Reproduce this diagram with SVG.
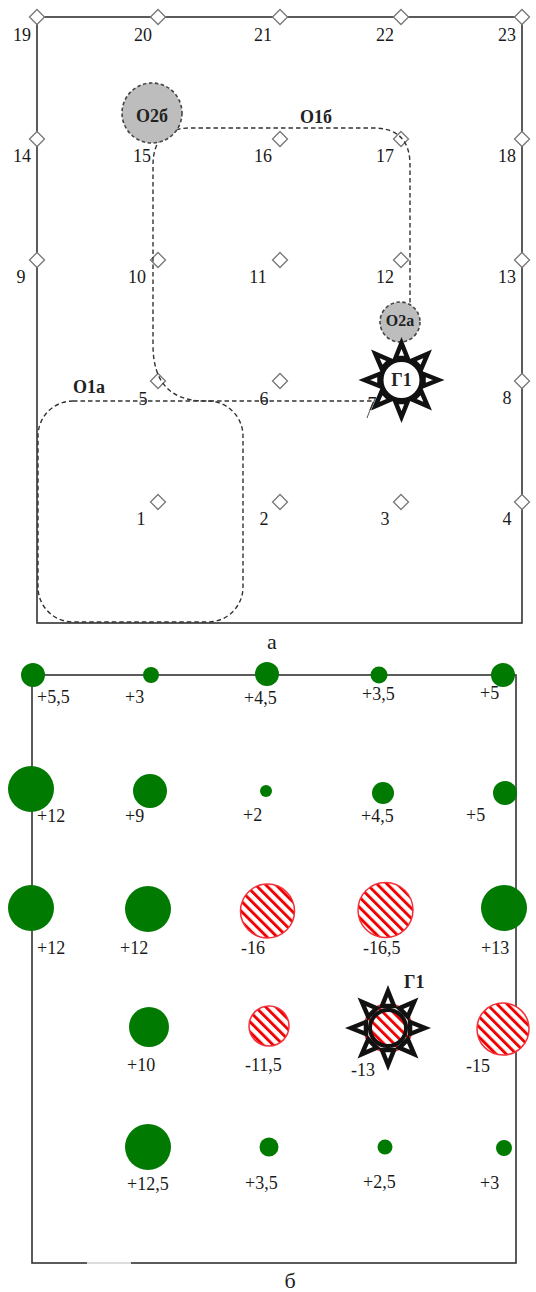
<svg xmlns="http://www.w3.org/2000/svg" xmlns:xlink="http://www.w3.org/1999/xlink" width="536" height="1292" viewBox="0 0 536 1292">
<style>
text{font-family:"Liberation Serif","Times New Roman",serif;font-size:18px;fill:#1a1a1a}
.n{text-anchor:middle}
.b{font-weight:bold;fill:#222}
.f{fill:none;stroke:#333;stroke-width:1.6}
.d{fill:#fff;stroke:#777;stroke-width:1.3}
.p{fill:none;stroke:#333;stroke-width:1.4;stroke-dasharray:4.5 3}
.o{fill:#bdbdbd;stroke:#444;stroke-width:1.6;stroke-dasharray:3.5 2.5}
.g{fill:#007a00}
.h{fill:url(#hatch);stroke:#f2303a;stroke-width:1.5}
.ray{fill:#fff;stroke:#111;stroke-width:4.5;stroke-linejoin:miter}
</style>
<defs>
<pattern id="hatch" width="7.2" height="8" patternUnits="userSpaceOnUse" patternTransform="rotate(-45)">
<rect width="7.2" height="8" fill="#fff"/><rect x="0" y="0" width="2.9" height="8" fill="#f00000"/>
</pattern>
<polygon id="d" class="d" points="0,-7.500 7.500,0 0,7.500 -7.500,0"/>
<g id="rays">
<polygon id="r" class="ray" points="0,-37 6,-22 -6,-22"/>
<use xlink:href="#r" transform="rotate(45)"/><use xlink:href="#r" transform="rotate(90)"/><use xlink:href="#r" transform="rotate(135)"/><use xlink:href="#r" transform="rotate(180)"/><use xlink:href="#r" transform="rotate(225)"/><use xlink:href="#r" transform="rotate(270)"/><use xlink:href="#r" transform="rotate(315)"/>
</g>
</defs>

<g id="panel-a">
<rect id="frame-a" class="f" x="37" y="17" width="485" height="606"/>
<g id="grid-points">
<use xlink:href="#d" x="37" y="17"/><use xlink:href="#d" x="158" y="17"/><use xlink:href="#d" x="280" y="17"/><use xlink:href="#d" x="401" y="17"/><use xlink:href="#d" x="522" y="17"/>
<use xlink:href="#d" x="37" y="139"/><use xlink:href="#d" x="280" y="139"/><use xlink:href="#d" x="401" y="139"/><use xlink:href="#d" x="522" y="139"/>
<use xlink:href="#d" x="37" y="260"/><use xlink:href="#d" x="158" y="260"/><use xlink:href="#d" x="280" y="260"/><use xlink:href="#d" x="401" y="260"/><use xlink:href="#d" x="522" y="260"/>
<use xlink:href="#d" x="158" y="381"/><use xlink:href="#d" x="280" y="381"/><use xlink:href="#d" x="522" y="381"/>
<use xlink:href="#d" x="158" y="502"/><use xlink:href="#d" x="280" y="502"/><use xlink:href="#d" x="401" y="502"/><use xlink:href="#d" x="522" y="502"/>
</g>
<g id="connectors">
<rect id="route-o1a" class="p" x="38" y="401" width="205" height="221" rx="35" ry="35"/>
<path id="route-o1b" class="p" d="M410 310V165Q410 128 373 128H190Q153 128 153 165V345Q153 401 205 401H372"/>
<path id="arrow-o1b" d="M373 402L367 418" fill="none" stroke="#555" stroke-width="1"/>
</g>
<g id="grid-labels">
<text class="n" x="22" y="41">19</text><text class="n" x="143" y="41">20</text><text class="n" x="263" y="41">21</text><text class="n" x="385" y="41">22</text><text class="n" x="507" y="41">23</text>
<text class="n" x="22" y="162">14</text><text class="n" x="142" y="162">15</text><text class="n" x="263" y="162">16</text><text class="n" x="385" y="162">17</text><text class="n" x="507" y="162">18</text>
<text class="n" x="21" y="283">9</text><text class="n" x="137" y="283">10</text><text class="n" x="258" y="283">11</text><text class="n" x="385" y="283">12</text><text class="n" x="507" y="283">13</text>
<text class="n" x="143" y="405">5</text><text class="n" x="264" y="405">6</text><text class="n" x="372" y="410">7</text><text class="n" x="507" y="404">8</text>
<text class="n" x="141" y="525">1</text><text class="n" x="264" y="525">2</text><text class="n" x="385" y="525">3</text><text class="n" x="507" y="525">4</text>
</g>
<g id="node-o1a"><text class="b" x="73" y="393">О1а</text></g>
<g id="node-o1b"><text class="b" x="300" y="123">О1б</text></g>
<g id="node-o2b"><circle class="o" cx="152" cy="113" r="30"/><text class="b n" x="152" y="122">О2б</text></g>
<g id="node-o2a"><circle class="o" cx="400" cy="322" r="20"/><text class="b n" x="400" y="326" style="font-size:16px">О2а</text></g>
<g id="node-g1"><use xlink:href="#rays" x="401.5" y="380"/><circle cx="401.5" cy="380" r="20" fill="#fff" stroke="#111" stroke-width="4"/><text class="b n" x="401.5" y="386">Г1</text></g>
<text id="caption-a" class="n" x="272" y="649" style="font-size:22px">а</text>
</g>

<g id="panel-b">
<rect id="frame-b" class="f" x="32" y="675" width="484" height="588"/>
<path id="frame-b-gap" d="M87 1263H131" stroke="#ddd" stroke-width="2" fill="none"/>
<g id="sources">
<circle class="g" cx="33" cy="675" r="12"/><circle class="g" cx="151" cy="675" r="8"/><circle class="g" cx="267" cy="674" r="12"/><circle class="g" cx="379" cy="675" r="8.5"/><circle class="g" cx="503" cy="675" r="12"/>
<circle class="g" cx="31" cy="789" r="23"/><circle class="g" cx="150" cy="791" r="17"/><circle class="g" cx="266" cy="791" r="6"/><circle class="g" cx="383" cy="793" r="11"/><circle class="g" cx="505" cy="793" r="12"/>
<circle class="g" cx="31" cy="908" r="23"/><circle class="g" cx="148" cy="909" r="23"/><circle class="g" cx="504" cy="908" r="23"/>
<circle class="g" cx="149" cy="1027" r="20"/>
<circle class="g" cx="148" cy="1147" r="23"/><circle class="g" cx="269" cy="1147" r="9.500"/><circle class="g" cx="385" cy="1147" r="7.500"/><circle class="g" cx="504" cy="1148" r="8"/>
</g>
<g id="sinks">
<circle class="h" cx="267.500" cy="911" r="27"/><circle class="h" cx="385.500" cy="910" r="27.500"/>
<circle class="h" cx="269" cy="1026" r="20"/><circle class="h" cx="503" cy="1029" r="26"/>
</g>
<g id="node-g1-b"><circle class="h" cx="388" cy="1028" r="24"/><use xlink:href="#rays" x="388" y="1028"/><circle cx="388" cy="1028" r="18" fill="url(#hatch)" stroke="#111" stroke-width="4"/><text class="b" x="404" y="988">Г1</text></g>
<g id="values">
<text x="37" y="703">+5,5</text><text x="125" y="703">+3</text><text x="244" y="704">+4,5</text><text x="362" y="700">+3,5</text><text x="480" y="699">+5</text>
<text x="37" y="822">+12</text><text x="125" y="822">+9</text><text x="243" y="821">+2</text><text x="361" y="822">+4,5</text><text x="466" y="821">+5</text>
<text x="37" y="954">+12</text><text x="120" y="954">+12</text><text x="241" y="954">-16</text><text x="363" y="954">-16,5</text><text x="481" y="954">+13</text>
<text x="127" y="1071">+10</text><text x="245" y="1071">-11,5</text><text x="351" y="1076">-13</text><text x="466" y="1072">-15</text>
<text x="127" y="1190">+12,5</text><text x="245" y="1189">+3,5</text><text x="363" y="1188">+2,5</text><text x="480" y="1189">+3</text>
</g>
<text id="caption-b" class="n" x="290" y="1288" style="font-size:22px">б</text>
</g>
</svg>
